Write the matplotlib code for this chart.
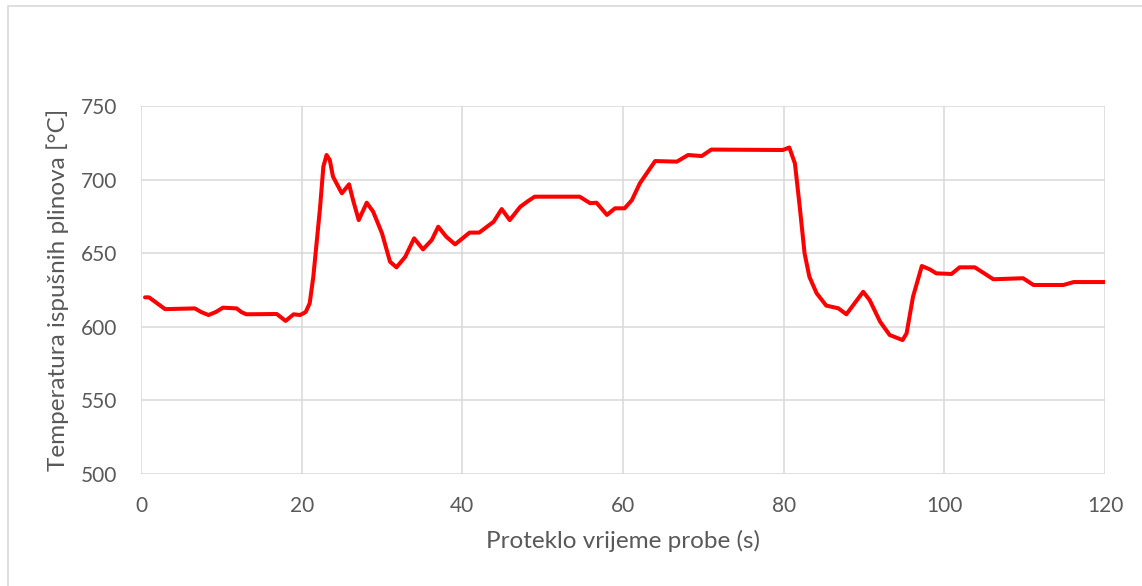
import matplotlib.pyplot as plt
from matplotlib.patches import Rectangle

plt.rcParams['font.family'] = ['Lato', 'DejaVu Sans']

# values
time_s = [0.5, 1.0, 2.0, 3.0, 6.7, 7.5, 8.4, 9.3, 10.2, 11.9, 12.5, 13.1, 16.9,
          18.0, 19.0, 19.8, 20.5, 21.0, 21.45, 22.3, 22.7, 23.1, 23.5, 23.9,
          25.0, 25.9, 26.4, 27.1, 28.1, 28.9, 30.0, 31.0, 31.8, 32.9, 34.0,
          35.1, 36.2, 37.0, 38.0, 39.1, 40.9, 42.1, 43.9, 44.9, 45.9, 47.2,
          48.2, 49.0, 54.6, 55.9, 56.7, 58.0, 59.0, 60.2, 61.1, 62.1, 64.0,
          66.7, 68.1, 69.8, 71.0, 79.9, 80.7, 81.4, 82.0, 82.6, 83.2, 84.1,
          85.3, 86.8, 87.8, 89.9, 90.7, 92.0, 93.2, 94.8, 95.3, 96.1, 97.2,
          98.2, 99.0, 100.9, 101.9, 103.8, 106.1, 109.8, 111.1, 114.8, 116.1,
          120.0]
temp_c = [620, 620, 616, 612, 612.5, 610, 608, 610, 613, 612.5, 610, 608.5, 608.7,
          604, 608.5, 608, 610, 616, 634, 681.6, 708.8, 716.7, 713.3, 702,
          690.7, 696.8, 686, 672.5, 684.3, 678.2, 663.5, 644.2, 640.4, 647.6, 660.1,
          652.6, 659, 668, 661.2, 656, 664, 664, 671.4, 680, 672.5, 681.5,
          685.5, 688.4, 688.4, 684, 684.3, 676, 680.5, 680.5, 686, 697.5, 712.6,
          712.2, 716.7, 716, 720.4, 720.1, 721.8, 711, 681.6, 650, 634, 622.8,
          614.4, 612.6, 608.5, 623.8, 618.2, 603.5, 594.4, 591, 595.5, 620.4, 641.3,
          639, 636.3, 635.9, 640.4, 640.4, 632.3, 633, 628.4, 628.4, 630.4,
          630.4]

x_ticks = [0, 20, 40, 60, 80, 100, 120]
y_ticks = [500, 550, 600, 650, 700, 750]

grid_col = '#d9d9d9'
text_col = '#595959'

fig = plt.figure(figsize=(11.42, 5.86), dpi=100)
fig.patches.append(Rectangle((8 / 1142, -0.1), 1.2, 1 - 6 / 586 + 0.1,
                             transform=fig.transFigure, fill=False,
                             edgecolor=grid_col, linewidth=1.2))
ax = fig.add_axes([141 / 1142, 1 - 474 / 586, 964 / 1142, 368 / 586])

ax.plot(time_s, temp_c, color='#ff0000', linewidth=2.9,
        solid_joinstyle='round', solid_capstyle='round', zorder=3)

ax.set_xlim(0, 120)
ax.set_ylim(500, 750)
ax.set_xticks(x_ticks)
ax.set_yticks(y_ticks)
ax.grid(True, color=grid_col, linewidth=1.1)
for s in ax.spines.values():
    s.set_visible(False)
ax.tick_params(length=0, labelsize=15, labelcolor=text_col)
ax.tick_params(axis='x', pad=16)
ax.tick_params(axis='y', pad=17)

ax.set_xlabel('Proteklo vrijeme probe (s)', fontsize=17.5, color=text_col, labelpad=10)
ax.set_ylabel('Temperatura ispušnih plinova [°C]', fontsize=17.5, color=text_col, labelpad=9)

fig.savefig('out.png', dpi=100)
